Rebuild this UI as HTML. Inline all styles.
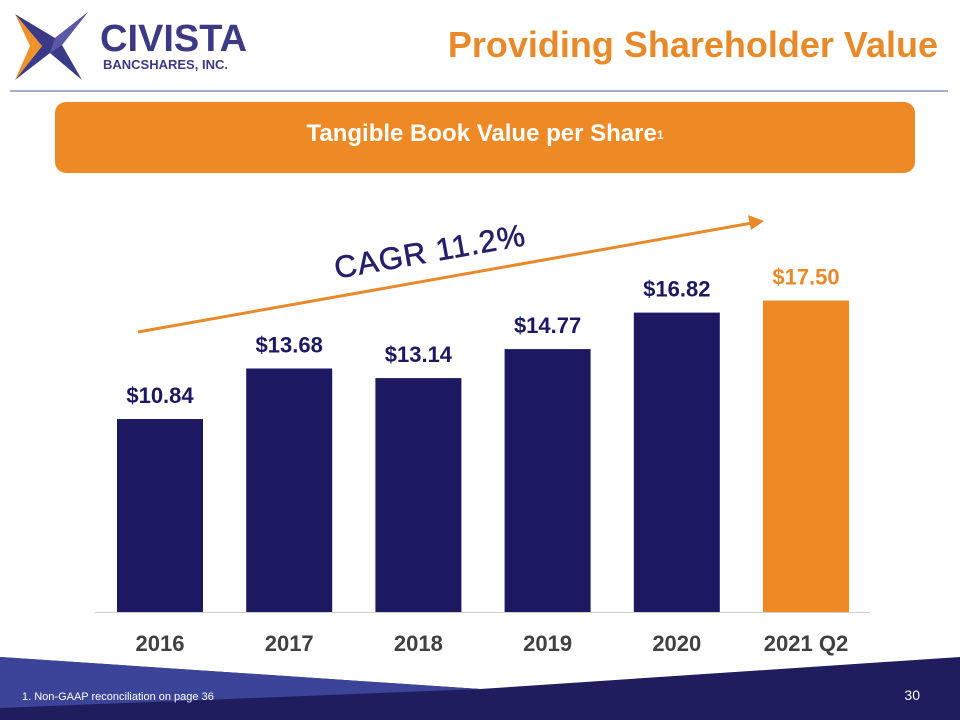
<!DOCTYPE html>
<html><head><meta charset="utf-8"><style>
body{margin:0;width:960px;height:720px;overflow:hidden;background:#fff;font-family:"Liberation Sans",sans-serif;position:relative}
</style></head><body>
<svg width="960" height="720" style="position:absolute;left:0;top:0">
<g>
<polygon points="15,14 55,38 88,12 62,45 82,80 50,53 15,80 42,46" fill="#3a3a86"/>
<polygon points="15,14 42,46 15,80 30,46" fill="#f0922b"/>
<polygon points="55,38 88,12 62,45 50,53" fill="#5b58a8"/>
<text x="100" y="51" font-size="38" font-weight="bold" fill="#3d3a85">CIVISTA</text>
<text x="103" y="69" font-size="13" font-weight="bold" fill="#3d3a85">BANCSHARES, INC.</text>
</g>
<text x="938" y="57" text-anchor="end" font-size="36" font-weight="bold" fill="#e8892a">Providing Shareholder Value</text>
<line x1="10" y1="91" x2="948" y2="91" stroke="#8c90c4" stroke-width="1.5"/>
<rect x="55" y="102" width="860" height="71" rx="11" fill="#ee8a25"/>
<text x="485" y="141" text-anchor="middle" font-size="24" font-weight="bold" fill="#fff">Tangible Book Value per Share<tspan font-size="12" dy="-2">1</tspan></text>
<g id="chart"></g>
<line x1="138" y1="332" x2="752" y2="223" stroke="#e8892a" stroke-width="3"/>
<polygon points="764,221 748,215 751,230" fill="#e8892a"/>
<text x="430" y="262" text-anchor="middle" font-size="31" fill="#24206a" stroke="#24206a" stroke-width="0.6" transform="rotate(-10 430 252)" style="letter-spacing:1px">CAGR 11.2%</text>
<polygon points="0,657 480,689 960,657 960,720 0,720" fill="#1f1d5e"/>
<polygon points="0,657 480,689 0,708" fill="#3c4499"/>
<text x="22" y="700" font-size="11" fill="#fff">1. Non-GAAP reconciliation on page 36</text>
<text x="920" y="700" font-size="14" fill="#fff" text-anchor="end">30</text>
</svg>
<script>
const categories=["2016","2017","2018","2019","2020","2021 Q2"];
const values=[10.84,13.68,13.14,14.77,16.82,17.50];
const labels=["$10.84","$13.68","$13.14","$14.77","$16.82","$17.50"];
const base=612,scale=17.8,x0=117,step=129.2,bw=86;
const yS=v=>base-v*scale, xS=i=>x0+i*step;
const g=document.getElementById('chart');const NS="http://www.w3.org/2000/svg";
const ax=document.createElementNS(NS,'line');
ax.setAttribute('x1',95);ax.setAttribute('x2',870);ax.setAttribute('y1',base+0.5);ax.setAttribute('y2',base+0.5);ax.setAttribute('stroke','#d0d0d0');


g.appendChild(ax);
values.forEach((v,i)=>{
 const last=i===values.length-1;
 const r=document.createElementNS(NS,'rect');
 r.setAttribute('x',xS(i));r.setAttribute('y',yS(v));r.setAttribute('width',bw);r.setAttribute('height',v*scale);
 r.setAttribute('fill',last?'#ee8a25':'#1c1862');
 
 
 g.appendChild(r);
 const t=document.createElementNS(NS,'text');
 t.setAttribute('x',xS(i)+bw/2);t.setAttribute('y',yS(v)-16);t.setAttribute('text-anchor','middle');
 t.setAttribute('font-size','22');t.setAttribute('font-weight','bold');t.setAttribute('fill',last?'#e8892a':'#1c1862');
 t.textContent=labels[i];
 
 
 g.appendChild(t);
 const c=document.createElementNS(NS,'text');
 c.setAttribute('x',xS(i)+bw/2);c.setAttribute('y',651);c.setAttribute('text-anchor','middle');
 c.setAttribute('font-size','22');c.setAttribute('font-weight','bold');c.setAttribute('fill','#404040');
 c.textContent=categories[i];
 
 
 g.appendChild(c);
});
</script>
</body></html>
